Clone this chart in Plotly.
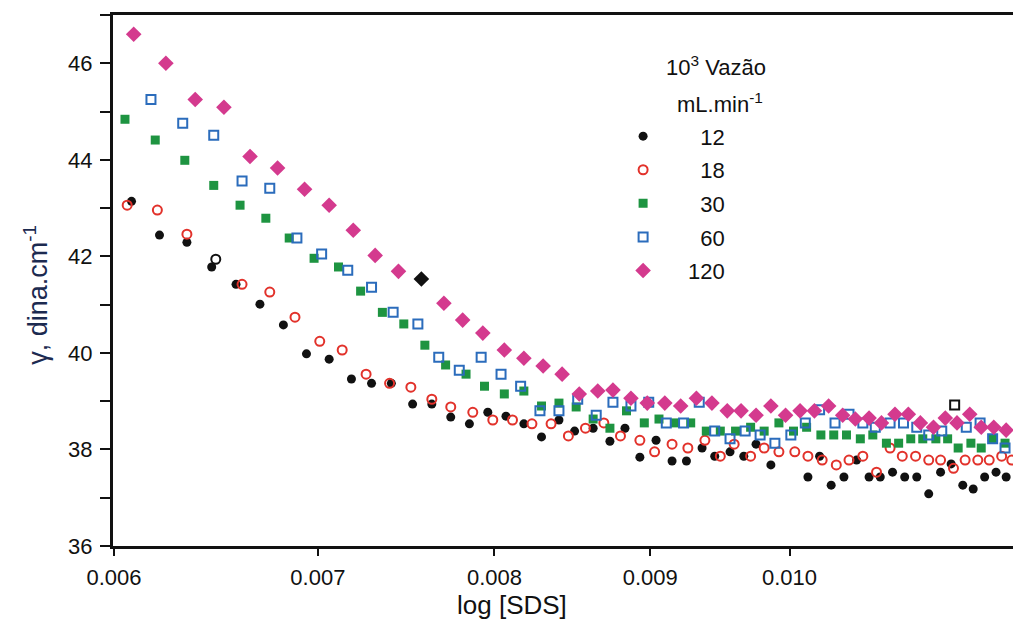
import plotly.graph_objects as go

# ---------------- data ----------------
x12 = [0.00608,0.00621,0.00634,0.00646,0.00658,0.00670,0.00682,0.00694,0.00706,0.00718,0.00729,0.00740,
       0.00752,0.00763,0.00774,0.00785,0.00796,0.00807,0.00818,0.00829,0.00840,0.00850,0.00862,0.00873,
       0.00883,0.00893,0.00904,0.00915,0.00925,0.00936,0.00945,0.00956,0.00966,0.00975,0.00986,0.01014,
       0.01023,0.01032,0.01042,0.01052,0.01062,0.01071,0.01081,0.01091,0.01101,0.01111,0.01121,0.01130,
       0.01140,0.01149,0.01159,0.01169,0.01178]
y12 = [43.14,42.44,42.29,41.78,41.42,41.01,40.58,39.98,39.87,39.46,39.37,39.37,
       38.94,38.94,38.67,38.53,38.77,38.69,38.53,38.26,38.61,38.38,38.44,38.17,
       38.44,37.84,38.19,37.76,37.76,38.03,37.86,37.95,37.86,38.11,37.68,37.43,
       37.86,37.26,37.43,37.78,37.43,37.43,37.53,37.43,37.43,37.08,37.53,37.70,
       37.26,37.18,37.43,37.53,37.43]

x18 = [0.00606,0.00620,0.00634,0.00648,0.00661,0.00675,0.00688,0.00701,0.00713,0.00726,0.00739,0.00751,
       0.00763,0.00774,0.00787,0.00799,0.00811,0.00823,0.00835,0.00846,0.00857,0.00869,0.00880,0.00893,
       0.00903,0.00915,0.00926,0.00938,0.00949,0.00959,0.00971,0.00981,0.00992,0.01004,0.01014,0.01025,
       0.01036,0.01046,0.01057,0.01068,0.01079,0.01089,0.01100,0.01111,0.01121,0.01132,0.01142,0.01153,
       0.01163,0.01174,0.01183]
y18 = [43.06,42.96,42.46,41.94,41.42,41.26,40.74,40.24,40.06,39.56,39.37,39.29,
       39.04,38.88,38.77,38.61,38.61,38.53,38.53,38.28,38.44,38.55,38.28,38.19,
       37.95,38.11,38.03,38.19,37.86,38.11,37.86,38.03,37.95,37.95,37.86,37.78,
       37.68,37.78,37.86,37.53,38.03,37.86,37.86,37.78,37.78,37.61,37.78,37.78,
       37.78,37.86,37.78]

x30 = [0.00605,0.00619,0.00633,0.00647,0.00660,0.00673,0.00685,0.00698,0.00711,0.00723,0.00735,0.00747,
       0.00759,0.00771,0.00783,0.00794,0.00806,0.00818,0.00829,0.00840,0.00851,0.00862,0.00873,0.00884,
       0.00896,0.00906,0.00917,0.00928,0.00939,0.00949,0.00960,0.00971,0.00981,0.00992,0.01003,0.01013,
       0.01024,0.01034,0.01044,0.01055,0.01065,0.01076,0.01086,0.01096,0.01106,0.01117,0.01127,0.01136,
       0.01147,0.01156,0.01166,0.01177]
y30 = [44.84,44.41,43.99,43.47,43.06,42.79,42.38,41.96,41.78,41.28,40.84,40.60,
       40.16,39.75,39.56,39.31,39.15,39.21,38.90,38.96,38.88,38.63,38.44,38.80,
       38.55,38.63,38.55,38.55,38.38,38.38,38.38,38.46,38.38,38.55,38.38,38.46,
       38.30,38.30,38.30,38.22,38.30,38.13,38.13,38.22,38.22,38.22,38.22,38.03,
       38.13,38.03,38.22,38.13]

x60 = [0.00617,0.00632,0.00647,0.00661,0.00675,0.00689,0.00702,0.00716,0.00729,0.00741,0.00755,0.00767,
       0.00779,0.00792,0.00804,0.00816,0.00828,0.00840,0.00852,0.00864,0.00875,0.00887,0.00899,0.00911,
       0.00923,0.00934,0.00945,0.00956,0.00967,0.00978,0.00989,0.01001,0.01012,0.01023,0.01035,0.01046,
       0.01057,0.01067,0.01079,0.01090,0.01101,0.01111,0.01122,0.01133,0.01143,0.01155,0.01166,0.01177]
y60 = [45.25,44.76,44.51,43.56,43.41,42.38,42.05,41.71,41.36,40.84,40.60,39.91,
       39.64,39.91,39.56,39.31,38.80,38.80,39.04,38.71,38.98,38.90,38.98,38.55,
       38.55,38.98,38.38,38.22,38.38,38.30,38.13,38.30,38.55,38.82,38.55,38.73,
       38.55,38.46,38.55,38.55,38.46,38.30,38.38,38.92,38.46,38.55,38.22,38.03]

x120 = [0.00609,0.00624,0.00638,0.00652,0.00665,0.00679,0.00693,0.00706,0.00719,0.00731,0.00744,0.00757,
        0.00770,0.00781,0.00793,0.00806,0.00818,0.00830,0.00842,0.00853,0.00865,0.00875,0.00887,0.00898,
        0.00910,0.00921,0.00932,0.00943,0.00954,0.00964,0.00975,0.00986,0.00997,0.01008,0.01019,0.01030,
        0.01041,0.01051,0.01062,0.01072,0.01083,0.01094,0.01104,0.01115,0.01125,0.01135,0.01146,0.01156,
        0.01167,0.01178]
y120 = [46.60,46.00,45.25,45.09,44.07,43.83,43.39,43.06,42.54,42.02,41.69,41.53,
        41.03,40.68,40.41,40.06,39.89,39.73,39.56,39.15,39.21,39.23,39.06,38.96,
        38.96,38.90,39.06,38.96,38.80,38.80,38.71,38.90,38.71,38.80,38.80,38.90,
        38.71,38.63,38.65,38.55,38.73,38.73,38.55,38.46,38.65,38.55,38.73,38.46,
        38.46,38.40]

series_names = ["12", "18", "30", "60", "120"]
x_ticks = [0.006, 0.007, 0.008, 0.009, 0.010]
x_tick_labels = ["0.006", "0.007", "0.008", "0.009", "0.010"]
x_title = "log [SDS]"
y_title = "\u03b3, dina.cm<sup>-1</sup>"
legend_title = ["10<sup>3</sup> Vazão", "mL.min<sup>-1</sup>"]

# ---------------- styles ----------------
BLACK = "#111111"
RED = "#e2322b"
GREEN = "#1e9441"
BLUE = "#2b6cbc"
MAGENTA = "#d43a8e"

# points printed black in the original scan (index -> colour)
odd_colors = {"18": {3: BLACK}, "60": {43: BLACK}, "120": {11: BLACK}}


def colors_for(name, n, base):
    c = [base] * n
    for i, col in odd_colors.get(name, {}).items():
        c[i] = col
    return c


specs = [
    ("12", x12, y12, dict(symbol="circle", size=9, color=BLACK, line=dict(width=0))),
    ("18", x18, y18, dict(symbol="circle-open", size=9, color=colors_for("18", len(x18), RED),
                          line=dict(width=2))),
    ("30", x30, y30, dict(symbol="square", size=9, color=GREEN, line=dict(width=0))),
    ("60", x60, y60, dict(symbol="square-open", size=9, color=colors_for("60", len(x60), BLUE),
                          line=dict(width=2))),
    ("120", x120, y120, dict(symbol="diamond", size=12,
                             color=colors_for("120", len(x120), MAGENTA), line=dict(width=0))),
]

fig = go.Figure()
for name, xs, ys, mk in specs:
    label = name if len(name) == 3 else "\u00a0\u00a0" + name
    fig.add_trace(go.Scatter(x=xs, y=ys, mode="markers", name=label, marker=mk,
                             legendgroup=name))

FONT = "Liberation Sans, Arial, sans-serif"

fig.update_layout(
    width=1013, height=623,
    margin=dict(l=113, r=0, t=15, b=77),
    paper_bgcolor="white", plot_bgcolor="white",
    font=dict(family=FONT, color=BLACK, size=22),
    showlegend=True,
    legend=dict(
        x=0.539, y=0.811, xanchor="left", yanchor="top",
        bgcolor="rgba(0,0,0,0)", borderwidth=0,
        font=dict(size=22, color=BLACK, family=FONT),
        itemwidth=80, tracegroupgap=2, itemsizing="trace",
    ),
    xaxis=dict(
        type="log",
        range=[-2.22218, -1.92661],
        tickvals=x_ticks, ticktext=x_tick_labels,
        ticks="outside", ticklen=7, tickwidth=2, tickcolor=BLACK,
        showline=True, linewidth=3, linecolor=BLACK, mirror=True,
        showgrid=False, zeroline=False,
        tickfont=dict(size=22, color=BLACK),
        ticklabelstandoff=3,
    ),
    yaxis=dict(
        range=[36, 47],
        tickmode="linear", tick0=36, dtick=2,
        ticks="outside", ticklen=10, tickwidth=2, tickcolor=BLACK,
        minor=dict(dtick=1, tick0=36, ticks="outside", ticklen=10, tickwidth=2, tickcolor=BLACK,
                   showgrid=False),
        showline=True, linewidth=3, linecolor=BLACK, mirror=False,
        showgrid=False, zeroline=False,
        tickfont=dict(size=22, color=BLACK),
        ticklabelstandoff=3,
    ),
    annotations=[
        dict(text=x_title, x=0.443, y=-0.111, xref="paper", yref="paper",
             xanchor="center", yanchor="middle", showarrow=False,
             font=dict(size=26, color=BLACK, family=FONT)),
        dict(text=y_title, x=-0.0856, y=0.473, xref="paper", yref="paper",
             xanchor="center", yanchor="middle", showarrow=False, textangle=-90,
             font=dict(size=27, color="#1c2a50", family=FONT)),
        dict(text=legend_title[0], x=0.670, y=0.904, xref="paper", yref="paper",
             xanchor="center", yanchor="middle", showarrow=False,
             font=dict(size=22, color=BLACK, family=FONT)),
        dict(text=legend_title[1], x=0.674, y=0.834, xref="paper", yref="paper",
             xanchor="center", yanchor="middle", showarrow=False,
             font=dict(size=22, color=BLACK, family=FONT)),
    ],
)

fig.write_html("out.html")
